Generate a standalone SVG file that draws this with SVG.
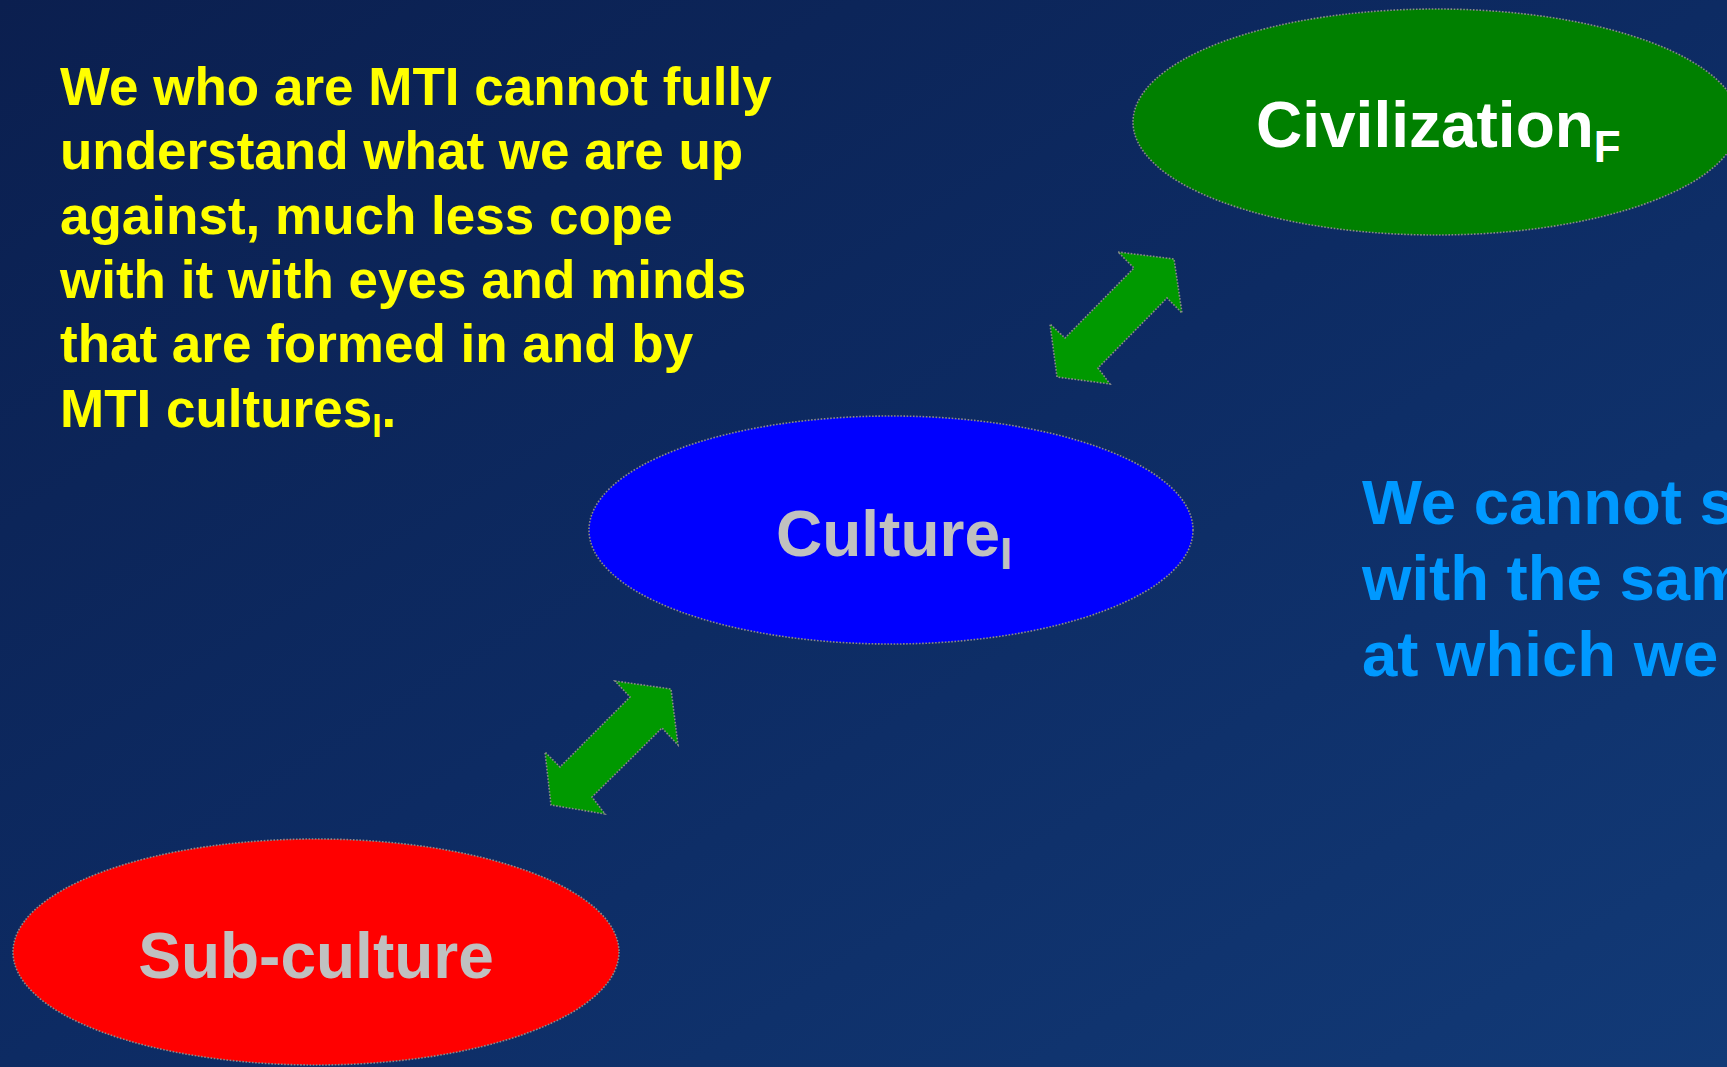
<svg xmlns="http://www.w3.org/2000/svg" width="1727" height="1067" viewBox="0 0 1727 1067">
  <defs>
    <linearGradient id="bg" x1="0" y1="0" x2="1" y2="1">
      <stop offset="0" stop-color="#0b1f4f"/>
      <stop offset="0.5" stop-color="#0d2b63"/>
      <stop offset="1" stop-color="#123a77"/>
    </linearGradient>
  </defs>
  <style>
    .node { stroke: #8a8a8a; stroke-width: 1.6; stroke-dasharray: 1.6 1.6; }
    .arrow { fill: #009900; stroke: #8a8a8a; stroke-width: 1.6; stroke-dasharray: 1.6 1.6; }
    .lbl { font-family: "Liberation Sans", Arial, sans-serif; font-weight: bold; }
    .para { font-family: "Liberation Sans", Arial, sans-serif; font-weight: bold; font-size: 53px; fill: #ffff00; }
    .quote { font-family: "Liberation Sans", Arial, sans-serif; font-weight: bold; font-size: 63.5px; fill: #0099ff; }
  </style>
  <rect x="0" y="0" width="1727" height="1067" fill="url(#bg)"/>

  <g id="intro-text">
    <text class="para">
      <tspan x="60" y="105">We who are MTI cannot fully</tspan>
      <tspan x="60" y="169">understand what we are up</tspan>
      <tspan x="60" y="234">against, much less cope</tspan>
      <tspan x="60" y="298">with it with eyes and minds</tspan>
      <tspan x="60" y="362">that are formed in and by</tspan>
      <tspan x="60" y="427">MTI cultures<tspan font-size="34" dy="10">I</tspan><tspan dy="-10">.</tspan></tspan>
    </text>
  </g>

  <g id="quote-text">
    <text class="quote">
      <tspan x="1362" y="524">We cannot s</tspan>
      <tspan x="1362" y="600">with the sam</tspan>
      <tspan x="1362" y="676">at which we</tspan>
    </text>
  </g>

  <g id="connectors">
    <polygon class="arrow" points="1118,252 1174,259 1182,313 1167,298 1098,368 1110,384 1057,377 1050,324 1065,338 1134,268"/>
    <polygon class="arrow" points="615,681 671,689 678,745 662,728 592,797 605,814 551,805 545,752 560,767 630,697"/>
  </g>

  <g id="node-civilization">
    <ellipse class="node" cx="1436" cy="122" rx="303" ry="113" fill="#008000"/>
    <text class="lbl" x="1256" y="147" font-size="64" fill="#ffffff">Civilization<tspan font-size="44" dy="15">F</tspan></text>
  </g>

  <g id="node-culture">
    <ellipse class="node" cx="891" cy="530" rx="302" ry="114" fill="#0000ff"/>
    <text class="lbl" x="776" y="556" font-size="64" fill="#c0c0c0">Culture<tspan font-size="44" dy="13">I</tspan></text>
  </g>

  <g id="node-subculture">
    <ellipse class="node" cx="316" cy="952" rx="303" ry="113" fill="#ff0000"/>
    <text class="lbl" x="316" y="978" font-size="64" fill="#c0c0c0" text-anchor="middle">Sub-culture</text>
  </g>
</svg>
